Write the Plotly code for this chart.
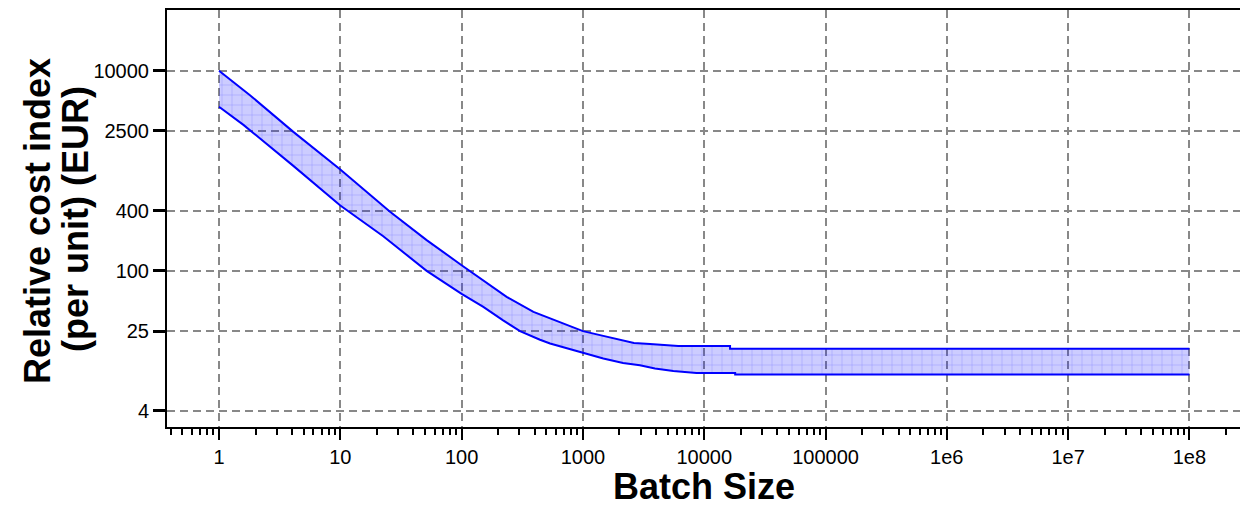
import plotly.graph_objects as go

# ---- data ----
upper_x = [1, 1.8, 4.1, 10, 25.7, 51.5, 100, 117, 235, 391, 647, 1000, 1384, 2023, 2634, 3574, 6119, 16330, 16330, 1e8]
upper_y = [10000, 5700, 2450, 1030, 390, 203, 114, 100, 55, 39, 30.6, 25, 22.8, 20.3, 19.0, 18.6, 17.8, 17.8, 16.7, 16.7]

lower_x = [1, 1.6, 4.1, 6.8, 10, 22.6, 51.5, 100, 151, 220, 303, 443, 536, 1000, 1473, 2142, 2950, 3930, 5560, 8640, 18000, 18000, 1e8]
lower_y = [4360, 2860, 1120, 670, 450, 222, 100, 59, 43.6, 32, 25, 20.5, 18.8, 15.2, 13.3, 12.0, 11.4, 10.6, 10.0, 9.55, 9.55, 9.2, 9.2]

x_tickvals = [1, 10, 100, 1000, 10000, 100000, 1e6, 1e7, 1e8]
x_ticktext = ["1", "10", "100", "1000", "10000", "100000", "1e6", "1e7", "1e8"]
y_tickvals = [4, 25, 100, 400, 2500, 10000]
y_ticktext = ["4", "25", "100", "400", "2500", "10000"]

minor_vals = [m * 10 ** k for k in range(-1, 9) for m in range(2, 10)]

W, H = 1240, 506
L, R, T, B = 167, 0, 10, 79
FONT = "Liberation Sans, Arial, Helvetica, sans-serif"
BLUE = "#0000ff"

fig = go.Figure()
fig.add_trace(go.Scatter(x=lower_x, y=lower_y, mode="lines",
                         line=dict(color=BLUE, width=2), hoverinfo="skip",
                         showlegend=False))
fig.add_trace(go.Scatter(x=upper_x, y=upper_y, mode="lines",
                         line=dict(color=BLUE, width=2), hoverinfo="skip",
                         fill="tonexty", fillcolor="rgba(0,0,255,0.2)",
                         fillpattern=dict(shape="+", size=10, solidity=0.1,
                                          fgcolor="rgba(90,90,255,0.45)",
                                          bgcolor="rgba(0,0,255,0.2)",
                                          fillmode="replace"),
                         showlegend=False))

plot_w = W - L - R
plot_h = H - T - B

def px_to_paper_x(px):
    return (px - L) / plot_w

def py_to_paper_y(py):
    return (H - B - py) / plot_h

fig.update_layout(
    width=W, height=H,
    margin=dict(l=L, r=R, t=T, b=B, pad=0),
    paper_bgcolor="white", plot_bgcolor="white",
    font=dict(family=FONT, color="black", size=20),
    xaxis=dict(type="log", range=[-0.4287, 8.417], automargin=False,
               tickmode="array", tickvals=x_tickvals, ticktext=x_ticktext,
               ticks="outside", ticklen=11, tickwidth=2, tickcolor="black",
               tickfont=dict(size=20, family=FONT, color="black"),
               showline=True, linecolor="black", linewidth=2, mirror=True,
               showgrid=True, gridcolor="#888888", gridwidth=1.6,
               griddash="8px,5px", zeroline=False,
               minor=dict(tickmode="array", tickvals=minor_vals, ticks="outside",
                          ticklen=6, tickwidth=1.5, tickcolor="black",
                          showgrid=False)),
    yaxis=dict(type="log", range=[0.44, 4.607], automargin=False,
               tickmode="array", tickvals=y_tickvals, ticktext=y_ticktext,
               ticks="outside", ticklen=12, tickwidth=2.5, tickcolor="black",
               tickfont=dict(size=20, family=FONT, color="black"),
               showline=True, linecolor="black", linewidth=2, mirror=False,
               showgrid=True, gridcolor="#888888", gridwidth=1.6,
               griddash="8px,5px", zeroline=False),
    annotations=[
        dict(text="<b>Batch Size</b>", xref="paper", yref="paper",
             x=px_to_paper_x(703.5), y=py_to_paper_y(486), xanchor="center",
             yanchor="middle", showarrow=False,
             font=dict(size=36, family=FONT, color="black")),
        dict(text="<b>Relative cost index</b>", xref="paper", yref="paper",
             x=px_to_paper_x(38), y=py_to_paper_y(221), xanchor="center",
             yanchor="middle", textangle=-90, showarrow=False,
             font=dict(size=36, family=FONT, color="black")),
        dict(text="<b>(per unit) (EUR)</b>", xref="paper", yref="paper",
             x=px_to_paper_x(75), y=py_to_paper_y(219), xanchor="center",
             yanchor="middle", textangle=-90, showarrow=False,
             font=dict(size=36, family=FONT, color="black")),
    ],
)

fig.write_html("out.html", config={"displayModeBar": False},
               post_script="document.body.style.margin='0';document.body.style.overflow='hidden';")
